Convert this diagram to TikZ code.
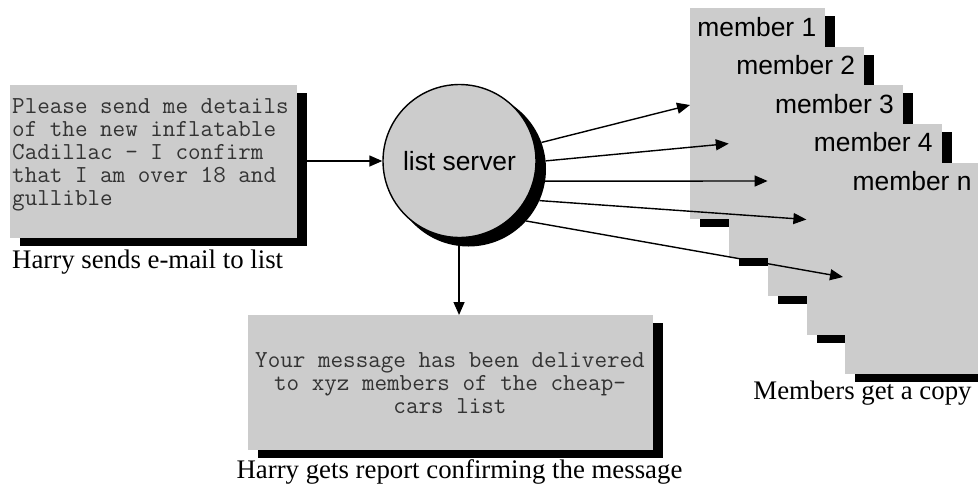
\documentclass[tikz,border=0pt]{standalone}
\usepackage{fontspec}
\setmainfont{Liberation Serif}
\newfontfamily\boxsans{Liberation Sans}
\usetikzlibrary{arrows.meta}
\definecolor{dither}{gray}{0.80}

\begin{document}
\begin{tikzpicture}[x=1pt,y=-1pt,
  sheet/.style={fill=dither, draw=none, inner sep=0, anchor=north west},
  drop/.style={fill=black, draw=none, inner sep=0, anchor=north west},
  conn/.style={line width=1.4pt, -{Triangle[length=13pt,width=11pt]}},
  mono/.style={font=\ttfamily\fontsize{24.4}{23}\selectfont, text=black!80, inner sep=0},
  sanslabel/.style={font=\boxsans\fontsize{26.4}{30}\selectfont, inner sep=0},
  caption/.style={font=\fontsize{26.8}{30}\selectfont, inner sep=0},
]
\useasboundingbox (0,0) rectangle (978,483);
\clip (0,0) rectangle (978,483);

% request sheet on the left
\node[drop, minimum width=287, minimum height=153] (reqsh) at (20,93) {};
\node[sheet, minimum width=287, minimum height=153] (req) at (10,85) {};
\node[mono, anchor=base west] (r1) at (12,113) {Please send me details};
\node[mono, anchor=base west] (r2) at (12,136) {of the new inflatable};
\node[mono, anchor=base west] (r3) at (12,159) {Cadillac - I confirm};
\node[mono, anchor=base west] (r4) at (12,182) {that I am over 18 and};
\node[mono, anchor=base west] (r5) at (12,205) {gullible};
\node[caption, anchor=base west] (cap1) at (12,268) {Harry sends e-mail to list};

% report sheet at the bottom
\node[drop, minimum width=405, minimum height=135] (repsh) at (258,323) {};
\node[sheet, minimum width=405, minimum height=135] (rep) at (248,315) {};
\node[mono, anchor=base] (p1) at (450,367) {Your message has been delivered};
\node[mono, anchor=base] (p2) at (450,390) {to xyz members of the cheap-};
\node[mono, anchor=base] (p3) at (450,413) {cars list};
\node[caption, anchor=base] (cap2) at (459.5,478) {Harry gets report confirming the message};

% stacked member copies
\foreach \k/\nm/\txt in {0/m1/member 1,1/m2/member 2,2/m3/member 3,3/m4/member 4,4/mn/member n}{
  \pgfmathsetmacro{\cx}{690+38.8*\k}
  \pgfmathsetmacro{\cy}{8+38.6*\k}
  \node[drop, minimum width=135, minimum height=211] (\nm sh) at (\cx+10,\cy+8) {};
  \node[sheet, minimum width=135, minimum height=211] (\nm) at (\cx,\cy) {};
  \node[sanslabel, anchor=base east] (\nm txt) at (\cx+126.5,\cy+28) {\txt};
}
\node[caption, anchor=base] (cap3) at (862.5,399.5) {Members get a copy};

% list server
\node[circle, fill=black, inner sep=0, minimum size=155] (srvsh) at (468.5,169) {};
\node[circle, fill=dither, draw=black, line width=1.4pt, inner sep=0, minimum size=153,
      font=\boxsans\fontsize{26.4}{30}\selectfont] (srv) at (459.5,161) {list server};

% arrow tips on the member copies
\coordinate (t1) at (690,105);
\coordinate (t2) at (728.8,143.6);
\coordinate (t3) at (767.6,181);
\coordinate (t4) at (806.4,219.5);
\coordinate (t5) at (843,277);

% connectors
\draw[conn] (reqsh.east |- srv.west) -- (srv.west);
\draw[conn] (srvsh.263.7) -- (srvsh.263.7 |- rep.north);
\draw[conn] (srvsh.20) -- (t1);
\draw[conn] (srvsh.6.5) -- (t2);
\draw[conn] (srvsh.-9) -- (t3);
\draw[conn] (srvsh.-24) -- (t4);
\draw[conn] (srvsh.-42) -- (t5);
\end{tikzpicture}
\end{document}
